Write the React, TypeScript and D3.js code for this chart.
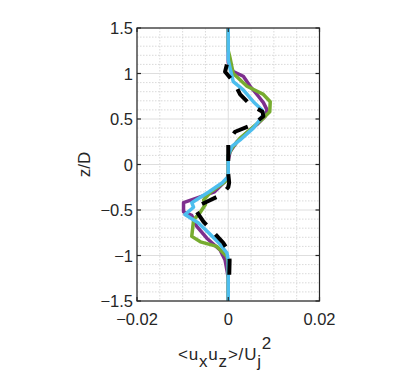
import React from "react";
import * as d3 from "d3";

// ---- data (z/D and <ux uz>/Uj^2, x values in units of 1e-3) ----
const purpleZ = [1.5, 1.12, 1.02, 0.97, 0.86, 0.75, 0.68, 0.6, 0.53, 0.44, 0.35, 0.25, 0.14, 0.05, -0.15, -0.3, -0.42, -0.52, -0.56, -0.68, -0.81, -0.94, -1.05, -1.16, -1.25, -1.5];
const purpleX = [0, 0, 1.1, 3.3, 4.8, 6.6, 7.7, 8.5, 8.1, 6.3, 4.1, 1.9, 0.4, 0, 0, -3.0, -9.8, -9.8, -8.0, -6.9, -4.7, -1.8, -0.7, -0.3, 0, 0];

const greenZ = [1.5, 1.25, 1.17, 1.0, 0.86, 0.77, 0.69, 0.58, 0.51, 0.4, 0.29, 0.18, 0.1, -0.13, -0.19, -0.3, -0.39, -0.44, -0.53, -0.61, -0.79, -0.85, -0.9, -1.01, -1.08, -1.5];
const greenX = [0, 0, 0.4, 1.1, 4.1, 7.7, 9.2, 9.1, 7.7, 5.2, 2.6, 0.8, 0, 0, -0.7, -3.8, -5.4, -5.0, -6.2, -7.6, -8.0, -6.1, -2.5, -0.3, 0, 0];

const blueZ = [1.5, 1.15, 1.06, 0.91, 0.82, 0.69, 0.6, 0.55, 0.47, 0.4, 0.27, 0.2, 0.1, -0.13, -0.2, -0.3, -0.42, -0.47, -0.55, -0.64, -0.75, -0.86, -0.97, -1.05, -1.5];
const blueX = [0, 0, 0.4, 1.1, 3.3, 5.5, 7.4, 7.7, 6.6, 5.5, 2.6, 0.8, 0, 0, -1.3, -4.2, -8.0, -7.6, -9.5, -6.6, -4.3, -2.1, -0.3, 0, 0];

const blackZ = [1.1, 1.02, 0.93, 0.85, 0.77, 0.66, 0.58, 0.53, 0.44, 0.36, 0.28, 0.22, -0.1, -0.2, -0.25, -0.33, -0.41, -0.47, -0.52, -0.63, -0.74, -0.86, -0.95, -1.05, -1.24];
const blackX = [-0.3, -0.7, 0.8, 1.8, 2.6, 4.8, 7.5, 7.7, 5.5, 1.5, 0.3, 0, 0, 0.2, 0, -1.4, -4.7, -7.3, -6.9, -5.4, -3.3, -1.1, 0, 0.3, 0.2];

const SCALE = 1e-3;

const xTicks = [-0.02, 0, 0.02];
const xTickLabels = ["\u22120.02", "0", "0.02"];
const yTicks = [-1.5, -1, -0.5, 0, 0.5, 1, 1.5];
const yTickLabels = ["\u22121.5", "\u22121", "\u22120.5", "0", "0.5", "1", "1.5"];

const W = 414;
const H = 373;
const L = 137, R = 319.5, T = 28, B = 301;
const FONT = "'Liberation Sans', Arial, Helvetica, sans-serif";

export default function App() {
  const x = d3.scaleLinear().domain([-0.02, 0.02]).range([L, R]);
  const y = d3.scaleLinear().domain([-1.5, 1.5]).range([B, T]);

  const minorX = d3.range(-0.02, 0.02001, 0.005).filter((v) => !xTicks.some((t) => Math.abs(t - v) < 1e-9));
  const minorY = d3.range(-1.5, 1.5001, 0.1).filter((v) => !yTicks.some((t) => Math.abs(t - v) < 1e-6));

  const line = d3
    .line<[number, number]>()
    .x((d) => x(d[0] * SCALE))
    .y((d) => y(d[1]));

  const mk = (zs: number[], xs: number[]) => line(zs.map((z, i) => [xs[i], z] as [number, number])) || "";

  const series = [
    { d: mk(purpleZ, purpleX), color: "#7E2F8E", w: 3.5, dash: undefined as string | undefined },
    { d: mk(greenZ, greenX), color: "#77AC30", w: 3.5, dash: undefined },
    { d: mk(blueZ, blueX), color: "#4DBEEE", w: 3.5, dash: undefined },
    { d: mk(blackZ, blackX), color: "#000000", w: 4, dash: "16 13" },
  ];

  const axisColor = "#262626";
  const tl = 4;

  return (
    <div style={{ position: "absolute", left: 0, top: 0 }}>
      <svg width={W} height={H} style={{ display: "block", background: "#fff" }}>
        <rect x={0} y={0} width={W} height={H} fill="#fff" />
        {minorX.map((v, i) => (
          <line key={"mx" + i} x1={x(v)} x2={x(v)} y1={T} y2={B} stroke="#cfcfcf" strokeWidth={0.8} strokeDasharray="1.5 1.5" />
        ))}
        {minorY.map((v, i) => (
          <line key={"my" + i} x1={L} x2={R} y1={y(v)} y2={y(v)} stroke="#cfcfcf" strokeWidth={0.8} strokeDasharray="1.5 1.5" />
        ))}
        {xTicks.map((v, i) => (
          <line key={"gx" + i} x1={x(v)} x2={x(v)} y1={T} y2={B} stroke="#dedede" strokeWidth={1} />
        ))}
        {yTicks.map((v, i) => (
          <line key={"gy" + i} x1={L} x2={R} y1={y(v)} y2={y(v)} stroke="#dedede" strokeWidth={1} />
        ))}
        {series.map((s, i) => (
          <path key={"s" + i} d={s.d} fill="none" stroke={s.color} strokeWidth={s.w} strokeDasharray={s.dash} strokeLinejoin="round" />
        ))}
        <rect x={L} y={T} width={R - L} height={B - T} fill="none" stroke={axisColor} strokeWidth={1.2} />
        {yTicks.map((v, i) => (
          <g key={"ty" + i}>
            <line x1={L} x2={L + tl} y1={y(v)} y2={y(v)} stroke={axisColor} strokeWidth={1.2} />
            <line x1={R} x2={R - tl} y1={y(v)} y2={y(v)} stroke={axisColor} strokeWidth={1.2} />
          </g>
        ))}
        {xTicks.map((v, i) => (
          <g key={"tx" + i}>
            <line x1={x(v)} x2={x(v)} y1={B} y2={B - tl} stroke={axisColor} strokeWidth={1.2} />
            <line x1={x(v)} x2={x(v)} y1={T} y2={T + tl} stroke={axisColor} strokeWidth={1.2} />
          </g>
        ))}
        {yTicks.map((v, i) => (
          <text key={"ly" + i} x={L - 4} y={y(v) + 6} textAnchor="end" fontFamily={FONT} fontSize={16.5} fill={axisColor}>
            {yTickLabels[i]}
          </text>
        ))}
        {xTicks.map((v, i) => (
          <text key={"lx" + i} x={x(v)} y={325} textAnchor="middle" fontFamily={FONT} fontSize={16.5} fill={axisColor}>
            {xTickLabels[i]}
          </text>
        ))}
        <text transform={`translate(90,${(T + B) / 2}) rotate(-90)`} textAnchor="middle" fontFamily={FONT} fontSize={17} fill={axisColor}>
          z/D
        </text>
        <text x={178} y={360} fontFamily={FONT} fontSize={17} letterSpacing={0.8} fill={axisColor}>
          <tspan>{"<u"}</tspan>
          <tspan dy={7}>x</tspan>
          <tspan dy={-7}>u</tspan>
          <tspan dy={7}>z</tspan>
          <tspan dy={-7}>{">/U"}</tspan>
          <tspan dy={7}>j</tspan>
          <tspan dx={0} dy={-18}>2</tspan>
        </text>
      </svg>
    </div>
  );
}
